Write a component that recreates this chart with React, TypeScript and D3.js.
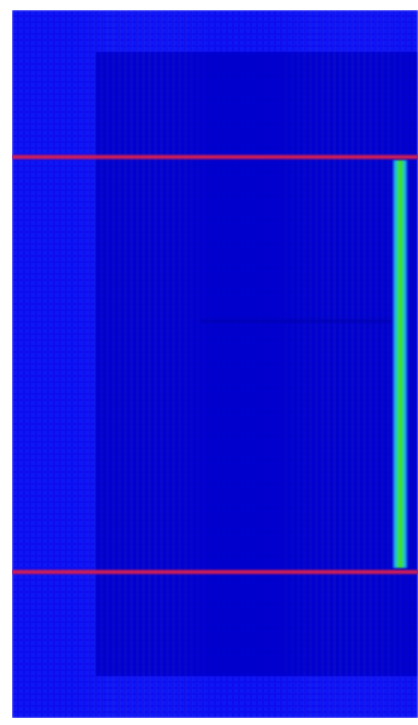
import React from "react";
import * as d3 from "d3";

// grid dimensions (cells)
const colCount = 68;
const rowCount = 118;
const columns = d3.range(colCount);
const rows = d3.range(rowCount);

// region levels: [x0, x1, y0, y1, level] in cell units
const innerRegion = [14, 68, 7.5, 111, 0];
const outerLevel = 1;
// faint darker seam inside inner region
const seam = [31.5, 63.6, 51.5, 52.2];

// red horizontal marker lines (row units)
const markerRows = [24.5, 93.67];
// green stripe: centre column, width, row span
const stripeCenter = [65.0];
const stripeWidth = [2.4];
const stripeSpan = [25.0, 93.0];

const levelColors = ["#0306d2", "#0912f8"];

export default function App() {
  const W = 418, H = 725;
  const x = d3.scaleLinear().domain([0, colCount]).range([12, 418]);
  const y = d3.scaleLinear().domain([0, rowCount]).range([10, 718]);
  const cw = x(1) - x(0);
  const ch = y(1) - y(0);
  const levelOf = (c: number, r: number) => {
    const [x0, x1, y0, y1, lv] = innerRegion;
    if (c + 0.5 >= x0 && c + 0.5 <= x1 && r + 0.5 >= y0 && r + 0.5 <= y1) return lv;
    return outerLevel;
  };
  return (
    <svg width={W} height={H} style={{ position: "absolute", left: 0, top: 0, display: "block" }}>
      <defs>
        <filter id="blur" x="-5%" y="-5%" width="110%" height="110%">
          <feGaussianBlur stdDeviation="1.3" />
        </filter>
        <filter id="blur2" x="-50%" y="-5%" width="200%" height="110%">
          <feGaussianBlur stdDeviation="1.1" />
        </filter>
        <linearGradient id="stripeGrad" x1="0" x2="1" y1="0" y2="0">
          <stop offset="0" stopColor="#1060f0" />
          <stop offset="0.2" stopColor="#20c0e0" />
          <stop offset="0.42" stopColor="#40e028" />
          <stop offset="0.58" stopColor="#40e028" />
          <stop offset="0.8" stopColor="#20c0e0" />
          <stop offset="1" stopColor="#1060f0" />
        </linearGradient>
        <clipPath id="plot">
          <rect x={x(0)} y={y(0)} width={x(colCount) - x(0)} height={y(rowCount) - y(0)} />
        </clipPath>
      </defs>
      <rect width={W} height={H} fill="#ffffff" />
      <g clipPath="url(#plot)">
        <g filter="url(#blur)">
          {rows.map((r) =>
            columns.map((c) => (
              <rect
                key={r + "-" + c}
                x={x(c)}
                y={y(r)}
                width={cw + 0.3}
                height={ch + 0.3}
                fill={levelColors[levelOf(c, r)]}
              />
            ))
          )}
          {/* subtle cell grid texture */}
          {columns.map((c) => (
            <line key={"gc" + c} x1={x(c)} x2={x(c)} y1={y(0)} y2={y(rowCount)} stroke="#000050" strokeOpacity={0.14} strokeWidth={1} />
          ))}
          {rows.map((r) => (
            <line key={"gr" + r} x1={x(0)} x2={x(colCount)} y1={y(r)} y2={y(r)} stroke="#000050" strokeOpacity={0.08} strokeWidth={1} />
          ))}
          <rect x={x(seam[0])} y={y(seam[2])} width={x(seam[1]) - x(seam[0])} height={y(seam[3]) - y(seam[2])} fill="#0000a8" opacity={0.5} />
        </g>
        <g filter="url(#blur2)">
          {stripeCenter.map((sc, i) => (
            <rect
              key={"s" + i}
              x={x(sc - stripeWidth[i] / 2)}
              y={y(stripeSpan[0])}
              width={x(stripeWidth[i]) - x(0)}
              height={y(stripeSpan[1]) - y(stripeSpan[0])}
              fill="url(#stripeGrad)"
            />
          ))}
        </g>
        <g filter="url(#blur)">
          {markerRows.map((m, i) => (
            <line key={"m" + i} x1={x(0)} x2={x(colCount)} y1={y(m)} y2={y(m)} stroke="#d01c55" strokeWidth={4} />
          ))}
        </g>
      </g>
    </svg>
  );
}
